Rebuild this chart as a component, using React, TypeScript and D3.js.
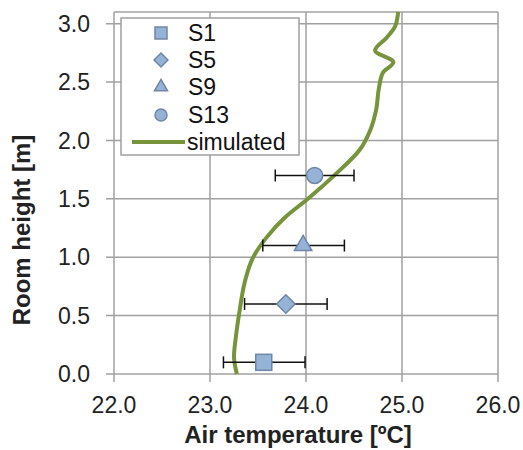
import React from 'react';
import * as d3 from 'd3';

// measured points
const seriesNames = ['S1', 'S5', 'S9', 'S13'];
const seriesShapes = ['square', 'diamond', 'triangle', 'circle'];
const measTemp = [23.56, 23.79, 23.97, 24.09];
const measHeight = [0.1, 0.6, 1.1, 1.7];
const errLow = [23.14, 23.36, 23.55, 23.68];
const errHigh = [23.99, 24.22, 24.4, 24.5];

// simulated profile
const simHeight = [0.0, 0.15, 0.32, 0.55, 0.78, 1.0, 1.17, 1.34, 1.5, 1.72, 1.92, 2.09, 2.26, 2.45, 2.58, 2.67, 2.77, 2.88, 2.98, 3.1];
const simTemp = [23.28, 23.25, 23.27, 23.31, 23.36, 23.45, 23.59, 23.78, 24.02, 24.32, 24.56, 24.67, 24.73, 24.76, 24.8, 24.91, 24.72, 24.84, 24.93, 24.96];

const xTicks = [22, 23, 24, 25, 26];
const yTicks = [0, 0.5, 1, 1.5, 2, 2.5, 3];

const W = 523, H = 450;
const gridColor = '#a0a0a0';
const markFill = '#95b3d7';
const markStroke = '#6f86a6';
const green = '#77933c';
const font = 'Liberation Sans, Arial, sans-serif';

const x = d3.scaleLinear().domain([22, 26]).range([114, 498]);
const y = d3.scaleLinear().domain([0, 3.1]).range([374, 12]);

const marker = (shape: string, cx: number, cy: number, s: number, key?: any) => {
    const props = { fill: markFill, stroke: markStroke, strokeWidth: 1.5, key };
    if (shape === 'square') return <rect {...props} x={cx - s / 2} y={cy - s / 2} width={s} height={s} />;
    if (shape === 'circle') return <circle {...props} cx={cx} cy={cy} r={s / 2} />;
    const sym = shape === 'diamond' ? d3.symbolDiamond2 : d3.symbolTriangle2;
    const area = shape === 'diamond' ? s * s * 0.85 : s * s * 0.85;
    return <path {...props} transform={`translate(${cx},${cy})`} d={d3.symbol(sym, area)() as string} />;
};

export default function App() {
    const line = d3.line<number>()
        .x((_, i) => x(simTemp[i]))
        .y(d => y(d))
        .curve(d3.curveMonotoneY);

    const legendY = [33, 60, 87, 115];

    return (
        <svg width={W} height={H} style={{ position: 'absolute', left: 0, top: 0, background: '#fff' }} fontFamily={font}>
            {/* grid */}
            {xTicks.map(t => (
                <line key={'vx' + t} x1={x(t)} x2={x(t)} y1={y(3.1)} y2={y(0) + 8} stroke={gridColor} strokeWidth={1.5} />
            ))}
            {yTicks.map(t => (
                <line key={'hy' + t} x1={x(22) - 8} x2={x(26)} y1={y(t)} y2={y(t)} stroke={gridColor} strokeWidth={1.5} />
            ))}
            <line x1={x(22)} x2={x(26)} y1={y(3.1)} y2={y(3.1)} stroke={gridColor} strokeWidth={1.5} />

            {/* tick labels */}
            {xTicks.map(t => (
                <text key={'xl' + t} x={x(t)} y={413} textAnchor="middle" fontSize={23} fill="#222">{d3.format('.1f')(t)}</text>
            ))}
            {yTicks.map(t => (
                <text key={'yl' + t} x={90} y={y(t)} dy="0.35em" textAnchor="end" fontSize={23} fill="#222">{d3.format('.1f')(t)}</text>
            ))}

            {/* axis titles */}
            <text x={298} y={443} textAnchor="middle" fontSize={24} fontWeight="bold" fill="#222">Air temperature [ºC]</text>
            <text transform="translate(30,230) rotate(-90)" textAnchor="middle" fontSize={24} fontWeight="bold" fill="#222">Room height [m]</text>

            {/* simulated */}
            <path d={line(simHeight) as string} fill="none" stroke={green} strokeWidth={4} strokeLinejoin="round" />

            {/* error bars + markers */}
            {seriesNames.map((n, i) => {
                const cy = y(measHeight[i]);
                return (
                    <g key={n}>
                        <line x1={x(errLow[i])} x2={x(errHigh[i])} y1={cy} y2={cy} stroke="#111" strokeWidth={1.5} />
                        <line x1={x(errLow[i])} x2={x(errLow[i])} y1={cy - 6} y2={cy + 6} stroke="#111" strokeWidth={1.5} />
                        <line x1={x(errHigh[i])} x2={x(errHigh[i])} y1={cy - 6} y2={cy + 6} stroke="#111" strokeWidth={1.5} />
                        {marker(seriesShapes[i], x(measTemp[i]), cy, 16)}
                    </g>
                );
            })}

            {/* legend */}
            <rect x={121} y={18} width={178} height={137} fill="#fff" stroke={gridColor} strokeWidth={1.5} />
            {seriesNames.map((n, i) => (
                <g key={'lg' + n}>
                    {marker(seriesShapes[i], 161, legendY[i], 12)}
                    <text x={188} y={legendY[i]} dy="0.35em" fontSize={23} fill="#111">{n}</text>
                </g>
            ))}
            <line x1={132} x2={185} y1={142} y2={142} stroke={green} strokeWidth={4} />
            <text x={187} y={142} dy="0.35em" fontSize={23} fill="#111">simulated</text>
        </svg>
    );
}
